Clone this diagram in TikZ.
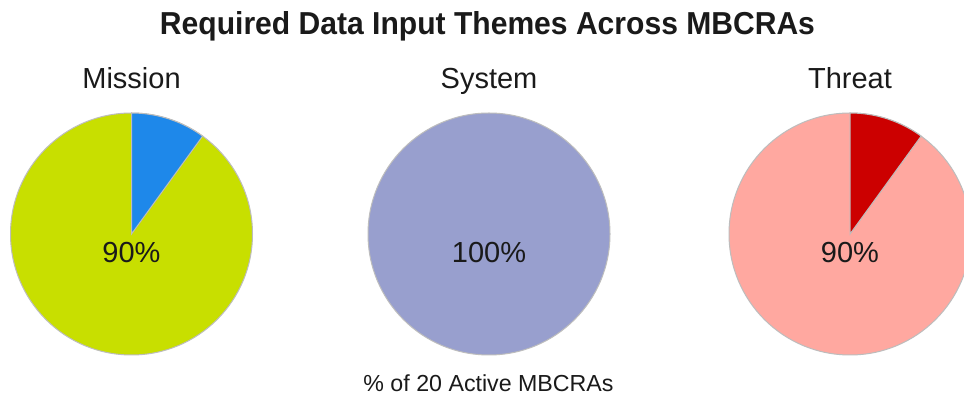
\documentclass[tikz,border=0pt]{standalone}
\usepackage{fontspec}
\setmainfont{Liberation Sans}
\usepackage{graphicx}
\definecolor{lime}{HTML}{C8DF00}
\definecolor{skyblue}{HTML}{1E88EA}
\definecolor{lavender}{HTML}{989FCE}
\definecolor{salmonpink}{HTML}{FFA8A0}
\definecolor{darkred}{HTML}{CC0000}
\definecolor{edgegray}{HTML}{BDBDBD}
\definecolor{txt}{HTML}{1A1A1A}
\begin{document}
\begin{tikzpicture}[x=1pt,y=1pt,
  slice/.style={draw=edgegray,line width=1pt},
  lbl/.style={anchor=base,inner sep=0pt,text=txt,font=\fontsize{29}{32}\selectfont}]
\useasboundingbox (0,0) rectangle (964,396);
\clip (0,0) rectangle (964,396);
\fill[white] (0,0) rectangle (964,396);
% title
\node[anchor=base,inner sep=0pt,text=txt] (title) at (487.5,361)
  {\resizebox{655pt}{23pt}{\bfseries Required Data Input Themes Across MBCRAs}};
% Mission
\coordinate (cm) at (131.5,162);
\fill[lime,slice] (cm) circle (121);
\fill[skyblue,slice] (cm) -- ++(90:121) arc (90:54:121) -- cycle;
\node[lbl] (lm) at (131.5,307) {Mission};
\node[lbl] (pm) at (131.5,133) {90\%};
% System
\coordinate (cs) at (489,162);
\fill[lavender,slice] (cs) circle (121);
\node[lbl] (ls) at (489,307) {System};
\node[lbl] (ps) at (489,133) {100\%};
% Threat
\coordinate (ct) at (850,162);
\fill[salmonpink,slice] (ct) circle (121);
\fill[darkred,slice] (ct) -- ++(90:121) arc (90:54:121) -- cycle;
\node[lbl] (lt) at (850,307) {Threat};
\node[lbl] (pt) at (850,133) {90\%};
% footer
\node[anchor=base,inner sep=0pt,text=txt,font=\fontsize{23.2}{26}\selectfont] (foot) at (488.5,4.5)
  {\% of 20 Active MBCRAs};
\end{tikzpicture}
\end{document}
